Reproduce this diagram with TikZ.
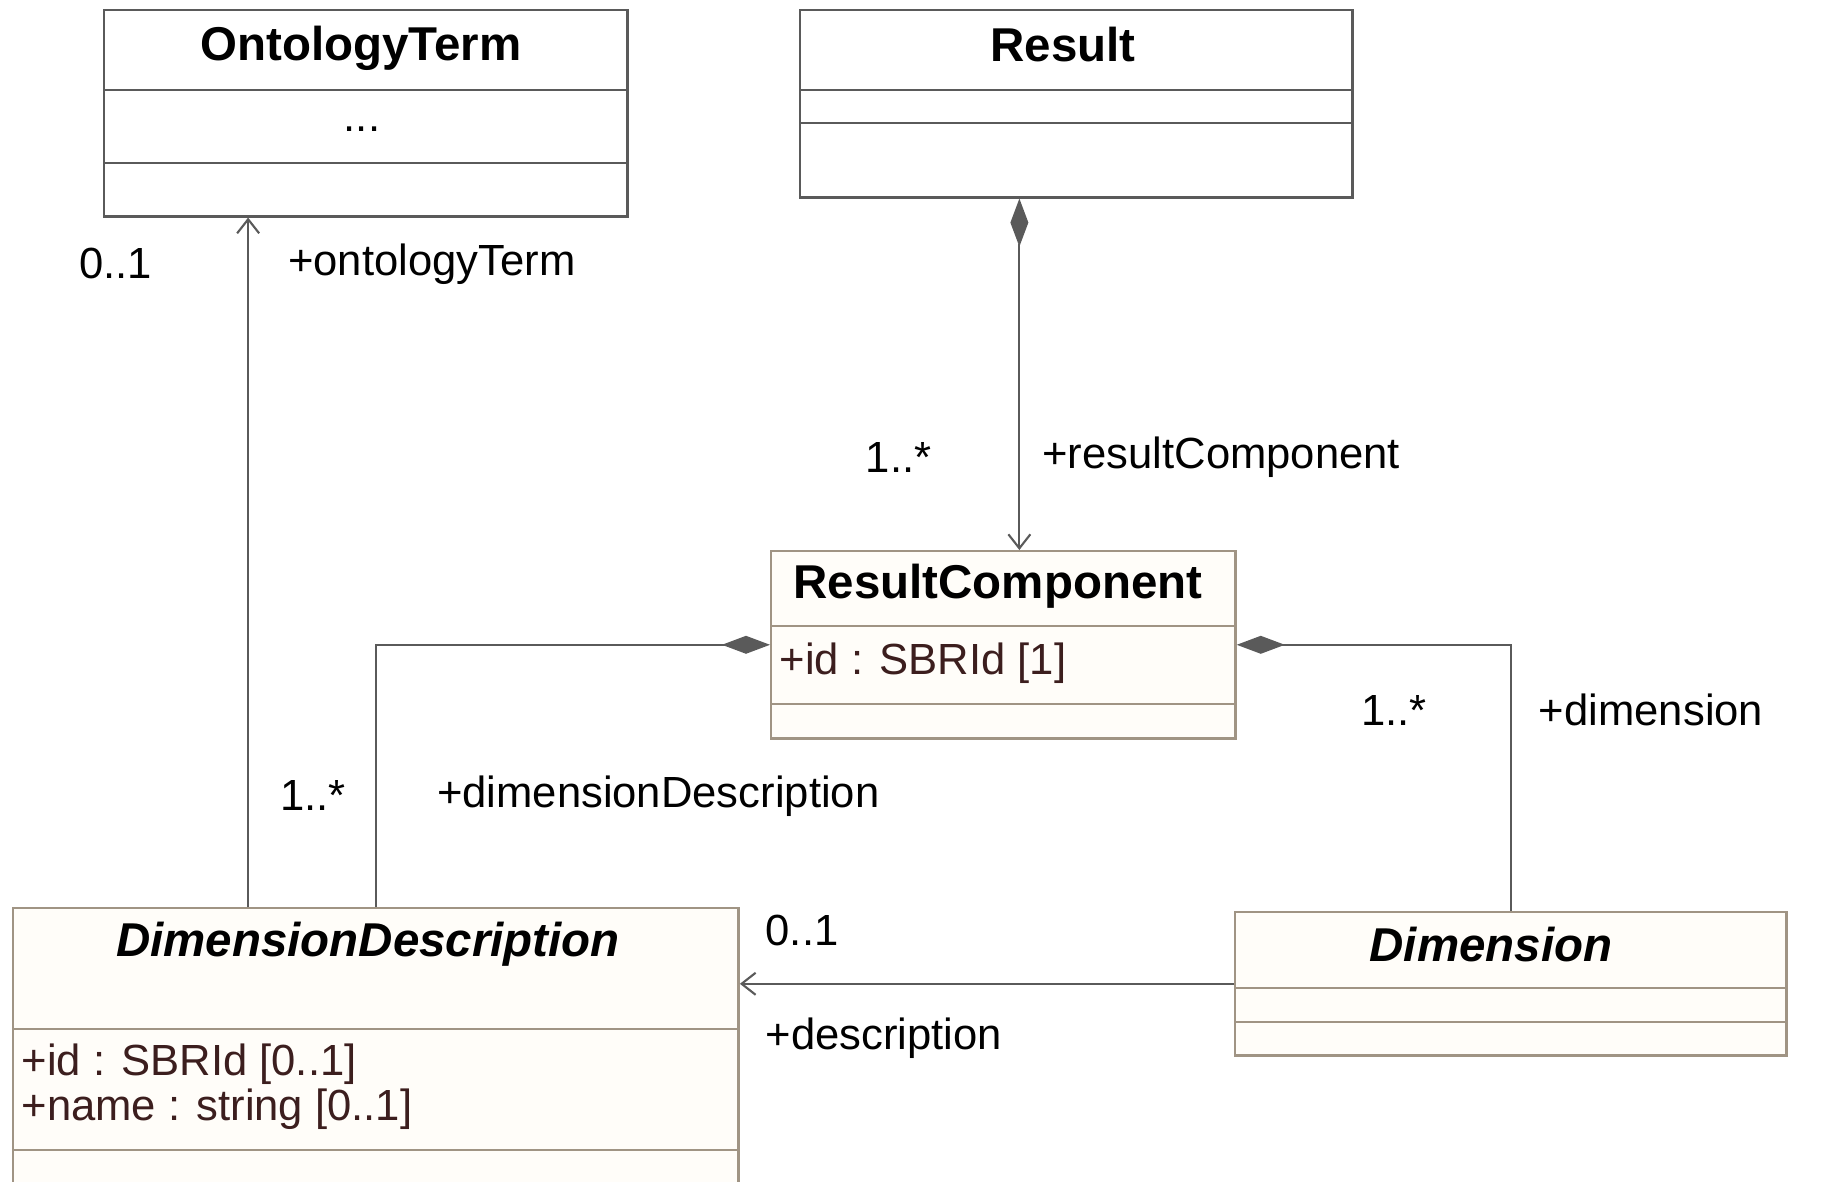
\documentclass[tikz,border=0pt]{standalone}
\usepackage{fontspec}
\setmainfont{Liberation Sans}
\usetikzlibrary{arrows.meta,positioning,calc}

\definecolor{linegray}{HTML}{5A5A5A}
\definecolor{tanborder}{HTML}{A09484}
\definecolor{creamfill}{HTML}{FFFDF9}
\definecolor{attrtext}{HTML}{3C1E1E}

\tikzset{
  classbox/.style={draw=linegray, line width=0.7pt, rectangle, anchor=north west, inner sep=0pt},
  tanbox/.style={classbox, draw=tanborder, fill=creamfill},
  classname/.style={font=\fontsize{13.5}{16}\selectfont\bfseries, inner sep=0pt},
  attr/.style={font=\fontsize{12.4}{15}\selectfont, text=attrtext, anchor=west, inner sep=0pt},
  role/.style={font=\fontsize{12.4}{15}\selectfont, inner sep=0pt},
  assoc/.style={draw=linegray, line width=0.6pt, -{Straight Barb[length=1.4mm,width=2.2mm]}},
  compose/.style={draw=linegray, line width=0.6pt, {Diamond[length=4.8mm,width=1.8mm]}-},
  composenav/.style={draw=linegray, line width=0.6pt, {Diamond[length=4.8mm,width=1.8mm]}-{Straight Barb[length=1.4mm,width=2.2mm]}}
}

\begin{document}
\begin{tikzpicture}[x=0.01cm, y=-0.01cm]
  \useasboundingbox (0,0) rectangle (1831,1181);

  % classes
  \node[classbox, minimum width=5.23cm, minimum height=2.06cm] (ontology) at (103,9) {};
  \node[classname] (ontologyname) at (361,48) {OntologyTerm};
  \node[role] (ontologydots) at (362,129) {...};
  \draw[linegray, line width=0.7pt] ($(ontology.north west)+(0,81)$) -- ($(ontology.north east)+(0,81)$);
  \draw[linegray, line width=0.7pt] ($(ontology.north west)+(0,154)$) -- ($(ontology.north east)+(0,154)$);

  \node[classbox, minimum width=5.52cm, minimum height=1.87cm] (result) at (799,9) {};
  \node[classname] (resultname) at (1063,45) {Result};
  \draw[linegray, line width=0.7pt] ($(result.north west)+(0,81)$) -- ($(result.north east)+(0,81)$);
  \draw[linegray, line width=0.7pt] ($(result.north west)+(0,114)$) -- ($(result.north east)+(0,114)$);

  \node[tanbox, minimum width=4.64cm, minimum height=1.87cm] (resultcomp) at (770,550) {};
  \node[classname] (resultcompname) at (998,586) {ResultComponent};
  \node[attr] (resultcompid) at (779,663) {+id : SBRId [1]};
  \draw[tanborder, line width=0.7pt] ($(resultcomp.north west)+(0,76)$) -- ($(resultcomp.north east)+(0,76)$);
  \draw[tanborder, line width=0.7pt] ($(resultcomp.north west)+(0,154)$) -- ($(resultcomp.north east)+(0,154)$);

  \node[tanbox, minimum width=7.25cm, minimum height=2.95cm] (dimdesc) at (12,907) {};
  \node[classname] (dimdescname) at (368,944) {\itshape DimensionDescription};
  \node[attr] (dimdescid) at (21,1064) {+id : SBRId [0..1]};
  \node[attr] (dimdescname2) at (21,1109) {+name : string [0..1]};
  \draw[tanborder, line width=0.7pt] ($(dimdesc.north west)+(0,122)$) -- ($(dimdesc.north east)+(0,122)$);
  \draw[tanborder, line width=0.7pt] ($(dimdesc.north west)+(0,243)$) -- ($(dimdesc.north east)+(0,243)$);

  \node[tanbox, minimum width=5.51cm, minimum height=1.43cm] (dimension) at (1234,911) {};
  \node[classname] (dimensionname) at (1491,945) {\itshape Dimension};
  \draw[tanborder, line width=0.7pt] ($(dimension.north west)+(0,77)$) -- ($(dimension.north east)+(0,77)$);
  \draw[tanborder, line width=0.7pt] ($(dimension.north west)+(0,111)$) -- ($(dimension.north east)+(0,111)$);

  % associations
  \coordinate (ontostart) at ([xshift=2.36cm]dimdesc.north west);
  \draw[assoc] (ontostart) -- (ontostart |- ontology.south)
    node[role, pos=0.933, left=0.95cm] {0..1}
    node[role, pos=0.933, right=0.39cm] {+ontologyTerm};

  \coordinate (rcstart) at ([xshift=-0.57cm]result.south);
  \draw[composenav] (rcstart) -- (rcstart |- resultcomp.north)
    node[role, pos=0.737, left=0.87cm] {1..*}
    node[role, pos=0.737, right=0.22cm] {+resultComponent};

  \draw[compose] (resultcomp.west) -| (dimdesc.north)
    node[role, pos=0.788, left=0.29cm] {1..*}
    node[role, pos=0.788, right=0.6cm] {+dimensionDescription};

  \draw[compose] (resultcomp.east) -| (dimension.north)
    node[role, pos=0.623, left=0.83cm] {1..*}
    node[role, pos=0.623, right=0.27cm] {+dimension};

  \draw[assoc] (dimension.west) -- (dimension.west -| dimdesc.east)
    node[role, pos=0.95, anchor=west, yshift=0.53cm] {0..1}
    node[role, pos=0.95, anchor=west, yshift=-0.54cm] {+description};

\end{tikzpicture}
\end{document}
